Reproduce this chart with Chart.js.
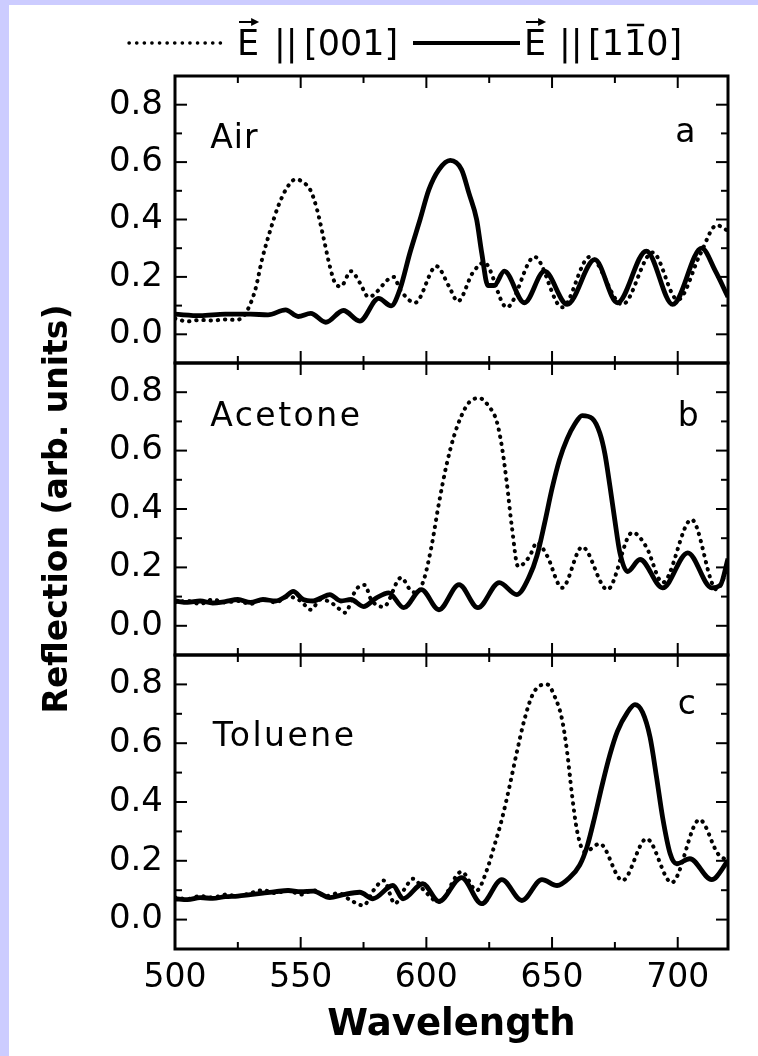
<!DOCTYPE html>
<html>
<head>
<meta charset="utf-8">
<title>Reflection spectra</title>
<script src="https://cdn.jsdelivr.net/npm/chart.js@4.4.1/dist/chart.umd.min.js"></script>
<style>
  html, body { margin: 0; padding: 0; background: #ccccff; }
  #wrap { position: absolute; left: 9px; top: 5px; width: 749px; height: 1051px; background: #fff; }
  canvas { display: block; }
</style>
</head>
<body>
<div id="wrap"><canvas id="chart" width="749" height="1051"></canvas></div>
<script>
// Reflection spectra, three solvents, two polarisations
const FONT = "'DejaVu Sans', 'Liberation Sans', sans-serif";

const xTickLabels = [500, 550, 600, 650, 700];
const yTickLabels = ['0.0', '0.2', '0.4', '0.6', '0.8'];
const panelNames = ['Air', 'Acetone', 'Toluene'];
const panelLetters = ['a', 'b', 'c'];

// Panel a - Air
const airSolidWl  = [500, 510, 520, 530, 537, 544, 549, 554, 560, 567, 573.5, 581, 586, 589.5, 593.5, 597.5, 601, 605, 609.5, 614, 617, 620, 622, 624.5, 627, 631, 639, 647, 656, 667, 676, 687.5, 698, 709.5, 715, 720];
const airSolidR   = [0.07, 0.065, 0.07, 0.07, 0.068, 0.085, 0.062, 0.073, 0.042, 0.083, 0.046, 0.125, 0.099, 0.157, 0.285, 0.40, 0.504, 0.574, 0.606, 0.574, 0.49, 0.40, 0.285, 0.17, 0.17, 0.22, 0.11, 0.22, 0.104, 0.26, 0.11, 0.29, 0.104, 0.30, 0.22, 0.13];
const airDotWl    = [500, 505, 510, 515, 520, 524, 527, 529, 532, 534.6, 538, 541, 544.5, 548, 551, 554, 556.5, 559, 561.6, 563.6, 566, 570, 573.5, 577, 587, 589.5, 595.5, 604, 609, 612.5, 618.5, 623, 632, 643, 654, 665, 678, 690, 700, 709, 715.5, 720];
const airDotR     = [0.055, 0.045, 0.05, 0.048, 0.052, 0.05, 0.06, 0.087, 0.157, 0.26, 0.365, 0.445, 0.51, 0.54, 0.53, 0.50, 0.435, 0.34, 0.237, 0.18, 0.167, 0.22, 0.18, 0.13, 0.20, 0.157, 0.11, 0.237, 0.167, 0.115, 0.215, 0.25, 0.094, 0.27, 0.094, 0.27, 0.104, 0.285, 0.12, 0.28, 0.38, 0.36];

// Panel b - Acetone
const aceSolidWl  = [500, 505, 510, 515, 520, 525, 530, 535, 540, 544, 547, 551, 555, 558, 561.6, 566, 570, 575, 580, 585, 591, 598, 605, 613, 620.5, 629, 636, 641, 644, 647, 650, 653, 656, 659, 662, 666, 669, 671, 673, 675, 677, 680, 685, 694, 704, 713.5, 717, 720];
const aceSolidR   = [0.085, 0.08, 0.085, 0.078, 0.083, 0.09, 0.08, 0.09, 0.085, 0.10, 0.118, 0.09, 0.085, 0.095, 0.107, 0.085, 0.09, 0.066, 0.095, 0.113, 0.062, 0.124, 0.055, 0.141, 0.062, 0.148, 0.107, 0.17, 0.24, 0.35, 0.47, 0.57, 0.64, 0.69, 0.72, 0.71, 0.66, 0.59, 0.48, 0.36, 0.25, 0.186, 0.227, 0.13, 0.25, 0.13, 0.14, 0.23];
const aceDotWl    = [500, 505, 510, 515, 520, 525, 530, 535, 540, 545, 550, 554, 558, 562, 565, 567.6, 572, 575.5, 578, 583, 590, 593.5, 596, 599, 602, 605, 608, 611, 614, 617, 621, 625, 628, 630, 632, 634, 636.5, 641, 644, 648, 654, 662, 672, 682, 687.5, 694, 705.5, 715.5, 720];
const aceDotR     = [0.08, 0.085, 0.075, 0.09, 0.08, 0.085, 0.075, 0.09, 0.08, 0.10, 0.085, 0.055, 0.09, 0.08, 0.06, 0.045, 0.124, 0.14, 0.09, 0.065, 0.165, 0.124, 0.113, 0.158, 0.27, 0.42, 0.55, 0.65, 0.72, 0.765, 0.78, 0.75, 0.70, 0.616, 0.49, 0.34, 0.203, 0.237, 0.285, 0.24, 0.13, 0.27, 0.124, 0.32, 0.27, 0.148, 0.364, 0.124, 0.20];

// Panel c - Toluene
const tolSolidWl  = [500, 505, 510, 515, 520, 525, 530, 535, 540, 545, 550, 555, 561.6, 567, 573.5, 578.7, 586.7, 590.7, 598.6, 605, 614, 622, 630, 638, 646, 652, 657, 661, 664, 667, 670, 673, 676, 680, 683, 686, 689, 691.6, 694, 697, 699.6, 704.8, 713.5, 720];
const tolSolidR   = [0.071, 0.068, 0.075, 0.072, 0.078, 0.08, 0.085, 0.09, 0.095, 0.099, 0.095, 0.097, 0.075, 0.085, 0.093, 0.071, 0.116, 0.071, 0.122, 0.062, 0.143, 0.054, 0.136, 0.065, 0.136, 0.116, 0.143, 0.185, 0.25, 0.35, 0.46, 0.56, 0.64, 0.705, 0.731, 0.705, 0.62, 0.483, 0.347, 0.224, 0.19, 0.207, 0.136, 0.20];
const tolDotWl    = [500, 505, 510, 515, 520, 525, 530, 535, 540, 545, 550, 555, 560, 565, 570, 575, 579, 583, 587.5, 591, 594.8, 599, 605, 614, 620, 624, 627, 630, 633, 636, 639, 642, 645, 648, 651, 654, 656, 658, 660, 663, 669, 678, 687.6, 697.6, 708.7, 716, 720];
const tolDotR     = [0.075, 0.07, 0.08, 0.075, 0.085, 0.08, 0.09, 0.10, 0.09, 0.10, 0.085, 0.10, 0.08, 0.09, 0.065, 0.048, 0.10, 0.133, 0.054, 0.10, 0.139, 0.10, 0.06, 0.163, 0.099, 0.167, 0.25, 0.34, 0.45, 0.57, 0.68, 0.76, 0.795, 0.80, 0.76, 0.68, 0.57, 0.42, 0.30, 0.23, 0.258, 0.133, 0.275, 0.126, 0.34, 0.224, 0.20];

function pts(wl, r) {
    return wl.map((w, i) => ({ x: w, y: r[i] }));
}

function solidSet(wl, r, axis) {
    return {
        data: pts(wl, r), yAxisID: axis,
        borderColor: '#000', borderWidth: 4.8, pointRadius: 0,
        cubicInterpolationMode: 'monotone', fill: false
    };
}

function dotSet(wl, r, axis) {
    return {
        data: pts(wl, r), yAxisID: axis,
        borderColor: '#000', borderWidth: 4, borderDash: [0.4, 6.8], borderCapStyle: 'round',
        pointRadius: 0, cubicInterpolationMode: 'monotone', fill: false
    };
}

function panelScale(weight, stackWeight, withTitle) {
    return {
        type: 'linear', position: 'left', stack: 'panels', stackWeight: stackWeight, weight: weight,
        min: -0.1, max: 0.9,
        afterFit: s => { s.width = 166; },
        grid: { display: false, drawTicks: false },
        border: { display: false },
        ticks: {
            stepSize: 0.1, autoSkip: false, includeBounds: false, padding: 12, color: '#000',
            font: { family: FONT, size: 34 },
            callback: v => yTickLabels.find(l => Math.abs(parseFloat(l) - v) < 1e-6) || ''
        },
        title: {
            display: withTitle, text: 'Reflection (arb. units)', color: '#000',
            font: { family: FONT, size: 33, weight: 'bold' },
            padding: { top: 30, bottom: 0 }
        }
    };
}

// frame, inward ticks, panel captions and the custom legend
const decorations = {
    id: 'decorations',
    afterDatasetsDraw(chart) {
        const { ctx, chartArea: area, scales } = chart;
        const xs = scales.x;
        const line = (x1, y1, x2, y2) => { ctx.beginPath(); ctx.moveTo(x1, y1); ctx.lineTo(x2, y2); ctx.stroke(); };
        ctx.save();
        ctx.strokeStyle = '#000';
        ['ya', 'yb', 'yc'].forEach(id => {
            const ys = scales[id];
            ctx.lineWidth = 3;
            ctx.strokeRect(area.left, ys.top, area.right - area.left, ys.bottom - ys.top);
            ctx.lineWidth = 2;
            ys.ticks.forEach(t => {
                const py = ys.getPixelForValue(t.value);
                if (py <= ys.top + 2 || py >= ys.bottom - 2) return;
                const len = t.label ? 12 : 7;
                line(area.left, py, area.left + len, py);
                line(area.right, py, area.right - len, py);
            });
            xs.ticks.forEach(t => {
                const px = xs.getPixelForValue(t.value);
                if (px <= area.left + 2 || px >= area.right - 2) return;
                const len = t.label ? 12 : 7;
                line(px, ys.top, px, ys.top + len);
                line(px, ys.bottom, px, ys.bottom - len);
            });
        });

        // captions
        ctx.fillStyle = '#000';
        ctx.font = '33px ' + FONT;
        ctx.textBaseline = 'alphabetic';
        const namePos = [[514, 0.65], [514, 0.684], [515, 0.592]];
        const letterPos = [[699, 0.671], [700, 0.684], [700, 0.70]];
        ['ya', 'yb', 'yc'].forEach((id, i) => {
            const ys = scales[id];
            ctx.letterSpacing = i === 0 ? '1px' : '2.5px';
            ctx.textAlign = 'left';
            ctx.fillText(panelNames[i], xs.getPixelForValue(namePos[i][0]), ys.getPixelForValue(namePos[i][1]));
            ctx.letterSpacing = '0px';
            ctx.fillText(panelLetters[i], xs.getPixelForValue(letterPos[i][0]), ys.getPixelForValue(letterPos[i][1]));
        });
        ctx.restore();
    },
    afterDraw(chart) {
        const ctx = chart.ctx;
        ctx.save();
        ctx.strokeStyle = '#000';
        ctx.fillStyle = '#000';
        const ly = 38;
        // dotted sample
        ctx.lineWidth = 3.4;
        ctx.lineCap = 'round';
        ctx.setLineDash([0.3, 7.3]);
        ctx.beginPath(); ctx.moveTo(120, ly); ctx.lineTo(214, ly); ctx.stroke();
        // solid sample
        ctx.setLineDash([]);
        ctx.lineCap = 'butt';
        ctx.lineWidth = 4;
        ctx.beginPath(); ctx.moveTo(404, ly); ctx.lineTo(511, ly); ctx.stroke();

        ctx.font = '35px ' + FONT;
        ctx.textBaseline = 'alphabetic';
        ctx.textAlign = 'left';
        const base = 50;
        const capTop = base - 25;
        const vecE = x => {
            ctx.fillText('E', x, base);
            const w = ctx.measureText('E').width;
            ctx.lineWidth = 2;
            ctx.beginPath(); ctx.moveTo(x + 2, capTop - 8); ctx.lineTo(x + w - 5, capTop - 8); ctx.stroke();
            ctx.beginPath();
            ctx.moveTo(x + w, capTop - 8);
            ctx.lineTo(x + w - 8, capTop - 12);
            ctx.lineTo(x + w - 8, capTop - 4);
            ctx.closePath(); ctx.fill();
        };
        vecE(228);
        ctx.fillText('||', 265, base);
        ctx.fillText('[001]', 295, base);
        vecE(515);
        ctx.fillText('||', 550, base);
        const bx = 579;
        ctx.fillText('[110]', bx, base);
        const ox = bx + ctx.measureText('[1').width;
        const ow = ctx.measureText('1').width;
        ctx.lineWidth = 2.5;
        ctx.beginPath(); ctx.moveTo(ox + 3, capTop - 5); ctx.lineTo(ox + ow - 2, capTop - 5); ctx.stroke();
        ctx.restore();
    }
};

const chart = new Chart(document.getElementById('chart'), {
    type: 'line',
    data: {
        datasets: [
            solidSet(airSolidWl, airSolidR, 'ya'),
            solidSet(aceSolidWl, aceSolidR, 'yb'),
            solidSet(tolSolidWl, tolSolidR, 'yc'),
            dotSet(airDotWl, airDotR, 'ya'),
            dotSet(aceDotWl, aceDotR, 'yb'),
            dotSet(tolDotWl, tolDotR, 'yc')
        ]
    },
    options: {
        responsive: false,
        animation: false,
        layout: { padding: { top: 71, right: 30, left: 0, bottom: 0 } },
        plugins: { legend: { display: false }, tooltip: { enabled: false } },
        scales: {
            x: {
                type: 'linear', position: 'bottom', min: 500, max: 720,
                afterFit: s => { s.height = 107; },
                grid: { display: false, drawTicks: false },
                border: { display: false },
                ticks: {
                    stepSize: 25, autoSkip: false, includeBounds: false, maxRotation: 0, padding: 10, color: '#000',
                    font: { family: FONT, size: 33 },
                    callback: v => xTickLabels.includes(v) ? String(v) : ''
                },
                title: {
                    display: true, text: 'Wavelength', color: '#000',
                    font: { family: FONT, size: 37, weight: 'bold' },
                    padding: { top: 0, bottom: 8 }
                }
            },
            yc: panelScale(1, 294, false),
            yb: panelScale(2, 292, true),
            ya: panelScale(3, 287, false)
        }
    },
    plugins: [decorations]
});
</script>
</body>
</html>
